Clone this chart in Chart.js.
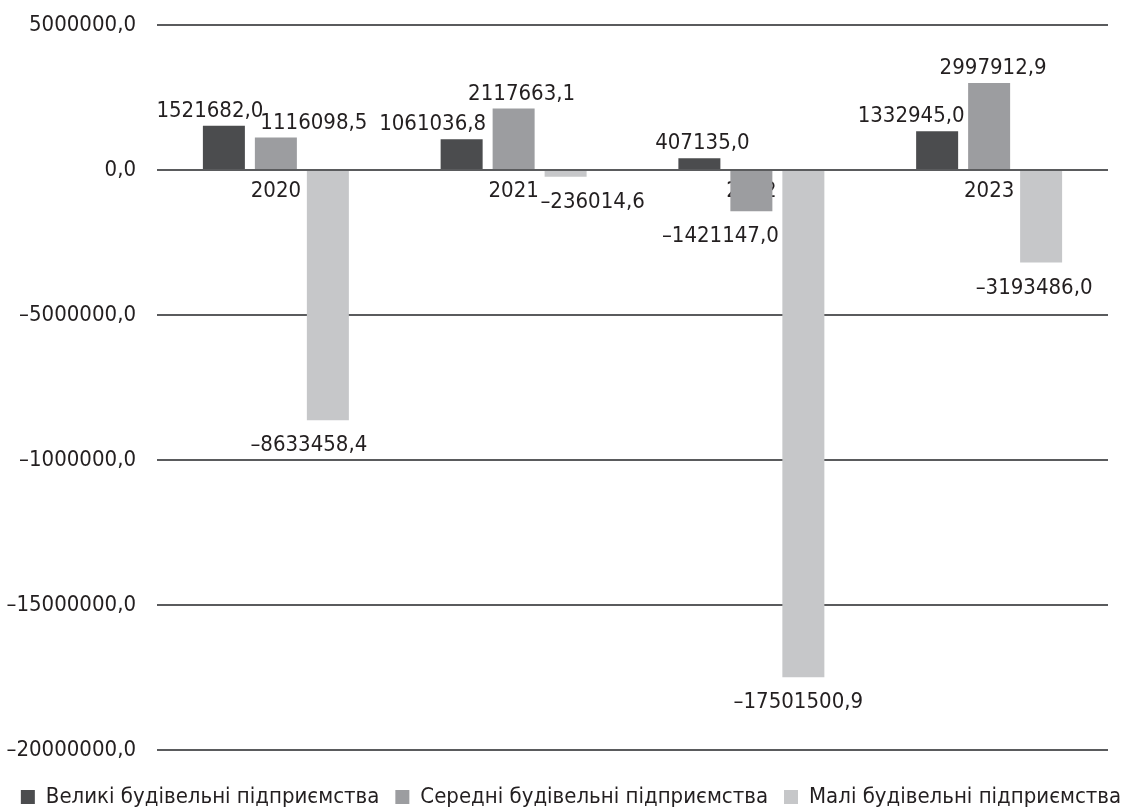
<!DOCTYPE html>
<html>
<head>
<meta charset="utf-8">
<script src="https://cdn.jsdelivr.net/npm/chart.js@4/dist/chart.umd.min.js"></script>
<style>
  body { margin: 0; background: #fff; }
  #wrap { width: 1142px; height: 812px; }
</style>
</head>
<body>
<div id="wrap"><canvas id="chart"></canvas></div>
<script>
// дані
const years = ['2020', '2021', '2022', '2023']
const velyki = [1521682.0, 1061036.8, 407135.0, 1332945.0]
const seredni = [1116098.5, 2117663.1, -1421147.0, 2997912.9]
const mali = [-8633458.4, -236014.6, -17501500.9, -3193486.0]
const seriesNames = ['Великі будівельні підприємства', 'Середні будівельні підприємства', 'Малі будівельні підприємства']
const tickValues = [5000000, 0, -5000000, -10000000, -15000000, -20000000]
const tickLabels = ['5000000,0', '0,0', '–5000000,0', '–1000000,0', '–15000000,0', '–20000000,0']

const FONT = '"Liberation Sans Narrow", "DejaVu Sans Condensed", "Open Sans", sans-serif'
const TEXT = '#231f20'
const colors = ['#4b4c4e', '#9c9da0', '#c6c7c9']
// зсув підписів відносно стовпця (px), щоб не налазили один на одного
const labelShift = [[-14, -29, 3, -26], [38, 8, -31, 4], [-19, 27, -5, -7]]

function fmt(v) {
      return v.toFixed(1).replace('.', ',').replace('-', '–')
}

const valueLabels = {
      id: 'valueLabels',
      afterDatasetsDraw(chart) {
            const ctx = chart.ctx
            ctx.save()
            ctx.font = '22px ' + FONT
            ctx.fillStyle = TEXT
            ctx.textAlign = 'center'
            ctx.textBaseline = 'alphabetic'
            chart.data.datasets.forEach((ds, i) => {
                  chart.getDatasetMeta(i).data.forEach((bar, j) => {
                        const v = ds.data[j]
                        const x = bar.x + labelShift[i][j]
                        if (v >= 0) ctx.fillText(fmt(v), x, bar.y - 9)
                        else ctx.fillText(fmt(v), x, bar.y + 31)
                  })
            })
            ctx.restore()
      }
}

const datasets = [velyki, seredni, mali].map((d, i) => ({
      label: seriesNames[i],
      data: d,
      backgroundColor: colors[i],
      categoryPercentage: 0.656,
      barPercentage: 0.808
}))

new Chart(document.getElementById('chart'), {
      type: 'bar',
      data: { labels: years, datasets: datasets },
      plugins: [valueLabels],
      options: {
            responsive: true,
            maintainAspectRatio: false,
            animation: false,
            layout: { padding: { top: 25, left: 0, right: 0, bottom: -6 } },
            plugins: {
                  tooltip: { enabled: false },
                  legend: {
                        position: 'bottom',
                        title: { display: true, text: '', font: { size: 1 }, padding: { top: 19, bottom: 0 } },
                        labels: {
                              boxWidth: 14, boxHeight: 14, padding: 16,
                              color: TEXT,
                              font: { family: FONT, size: 22 }
                        }
                  }
            },
            scales: {
                  x: {
                        position: { y: 0 },
                        z: 1,
                        grid: { display: false, drawTicks: false },
                        border: { display: false },
                        ticks: { color: TEXT, padding: 8, font: { family: FONT, size: 22 } }
                  },
                  y: {
                        min: -20000000, max: 5000000,
                        afterFit(s) { s.width = 157; s.paddingTop = 0; s.paddingBottom = 0 },
                        afterBuildTicks(s) { s.ticks = tickValues.map(v => ({ value: v })) },
                        grid: { color: '#5a5b5d', lineWidth: 2, drawTicks: false },
                        border: { display: false },
                        ticks: {
                              color: TEXT, padding: 21,
                              font: { family: FONT, size: 22 },
                              callback: v => tickLabels[tickValues.indexOf(v)]
                        }
                  },
                  yr: {
                        position: 'right',
                        display: true,
                        afterFit(s) { s.width = 34; s.paddingTop = 0; s.paddingBottom = 0 },
                        grid: { display: false, drawTicks: false },
                        border: { display: false },
                        ticks: { display: false }
                  }
            }
      }
})
</script>
</body>
</html>
